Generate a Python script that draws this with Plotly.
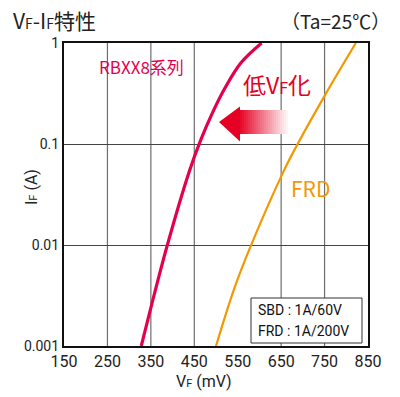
import plotly.graph_objects as go

# ---- data ----
sbd_vf = [328, 386, 440, 465, 491, 521, 558, 605]
sbd_if = [0.001, 0.0093, 0.056, 0.11, 0.2, 0.36, 0.64, 1.0]
frd_vf = [500, 541, 578, 655, 684, 751, 822]
frd_if = [0.001, 0.0036, 0.0093, 0.053, 0.093, 0.305, 1.0]

x_ticks = [150, 250, 350, 450, 550, 650, 750, 850]
x_grid = [250, 350, 450, 650, 750]
y_ticks = [0.001, 0.01, 0.1, 1]
y_ticklabels = ["0.001", "0.01", "0.1", "1"]

SBD_COLOR = "#e5004f"
FRD_COLOR = "#f39800"
RED = "#e60023"

# plot area in pixels
W, H = 400, 397
L, R, T, B = 64, 368, 43, 346


def px(xp):
    return (xp - L) / (R - L)


def py(yp):
    return (B - yp) / (B - T)


fig = go.Figure()
fig.add_trace(go.Scatter(x=sbd_vf, y=sbd_if, mode="lines",
                         line=dict(color=SBD_COLOR, width=3.2, shape="spline", smoothing=1.0),
                         hoverinfo="skip", showlegend=False))
fig.add_trace(go.Scatter(x=frd_vf, y=frd_if, mode="lines",
                         line=dict(color=FRD_COLOR, width=2.2, shape="spline", smoothing=1.0),
                         hoverinfo="skip", showlegend=False))

shapes = []
for gx in x_grid:
    shapes.append(dict(type="line", xref="x", yref="paper", x0=gx, x1=gx, y0=0, y1=1,
                       line=dict(color="#6e6e6e", width=1.2), layer="below"))

# gradient arrow (body stripes + solid head)
n = 26
bx0, bx1 = 238, 290
for i in range(n):
    t = i / (n - 1)
    r = int(230 + (255 - 230) * t)
    g = int(0 + 255 * t)
    b = int(35 + (255 - 35) * t)
    xa = bx0 + (bx1 - bx0) * i / n
    xb = bx0 + (bx1 - bx0) * (i + 1) / n + 0.3
    shapes.append(dict(type="rect", xref="paper", yref="paper",
                       x0=px(xa), x1=px(xb), y0=py(134), y1=py(110),
                       fillcolor=f"rgb({r},{g},{b})", line=dict(width=0), layer="above"))
shapes.append(dict(type="path", xref="paper", yref="paper",
                   path=f"M {px(219)} {py(122)} L {px(240)} {py(106.5)} L {px(240)} {py(141.5)} Z",
                   fillcolor=RED, line=dict(width=0), layer="above"))

# spec box
shapes.append(dict(type="rect", xref="paper", yref="paper",
                   x0=px(251), x1=px(362), y0=py(343), y1=py(298),
                   fillcolor="white", line=dict(color="#333333", width=1), layer="above"))

annotations = [
    dict(text="V<span style='font-size:14px'>F</span>-I<span style='font-size:14px'>F</span>特性",
         x=px(11), y=py(20), xref="paper", yref="paper", xanchor="left", yanchor="middle",
         showarrow=False, font=dict(family="Noto Sans CJK JP", size=21, color="#222")),
    dict(text="（Ta=25℃）", x=px(392), y=py(20), xref="paper", yref="paper",
         xanchor="right", yanchor="middle", showarrow=False,
         font=dict(family="Noto Sans CJK JP", size=19, color="#222")),
    dict(text="RBXX8系列", x=px(97), y=py(66), xref="paper", yref="paper",
         xanchor="left", yanchor="middle", showarrow=False,
         font=dict(family="Noto Sans CJK JP", size=17, color=SBD_COLOR)),
    dict(text="低V<span style='font-size:16px'>F</span>化", x=px(241), y=py(84), xref="paper", yref="paper",
         xanchor="left", yanchor="middle", showarrow=False,
         font=dict(family="Noto Sans CJK JP", size=23, color=RED)),
    dict(text="FRD", x=px(289), y=py(188), xref="paper", yref="paper",
         xanchor="left", yanchor="middle", showarrow=False,
         font=dict(family="Noto Sans CJK JP", size=21, color=FRD_COLOR)),
    dict(text="SBD : 1A/60V", x=px(256), y=py(310), xref="paper", yref="paper",
         xanchor="left", yanchor="middle", showarrow=False,
         font=dict(family="Roboto", size=14, color="#111")),
    dict(text="FRD : 1A/200V", x=px(256), y=py(331), xref="paper", yref="paper",
         xanchor="left", yanchor="middle", showarrow=False,
         font=dict(family="Roboto", size=14, color="#111")),
    dict(text="V<span style='font-size:11px'>F</span> (mV)", x=px(204), y=py(381), xref="paper", yref="paper",
         xanchor="center", yanchor="middle", showarrow=False,
         font=dict(family="Roboto", size=16, color="#222")),
    dict(text="I<span style='font-size:11px'>F</span> (A)", x=px(31), y=py(187), xref="paper", yref="paper",
         xanchor="center", yanchor="middle", showarrow=False, textangle=-90,
         font=dict(family="Roboto", size=16, color="#222")),
]

fig.update_layout(
    width=W, height=H,
    margin=dict(l=L, r=W - R, t=T, b=H - B),
    paper_bgcolor="white", plot_bgcolor="white",
    shapes=shapes, annotations=annotations,
    xaxis=dict(range=[150, 850], tickvals=x_ticks, showgrid=False, zeroline=False,
               showline=True, mirror=True, linecolor="#111", linewidth=2.2,
               ticks="", tickfont=dict(family="Roboto", size=16, color="#222")),
    yaxis=dict(type="log", range=[-3, 0], tickvals=y_ticks, ticktext=y_ticklabels,
               showgrid=True, gridcolor="#444", gridwidth=1.2, zeroline=False,
               showline=True, mirror=True, linecolor="#111", linewidth=2.2,
               ticks="", tickfont=dict(family="Roboto", size=14, color="#222")),
)

fig.write_html("out.html", config={"displayModeBar": False},
               post_script="document.body.style.margin='0';document.body.style.padding='0';")
